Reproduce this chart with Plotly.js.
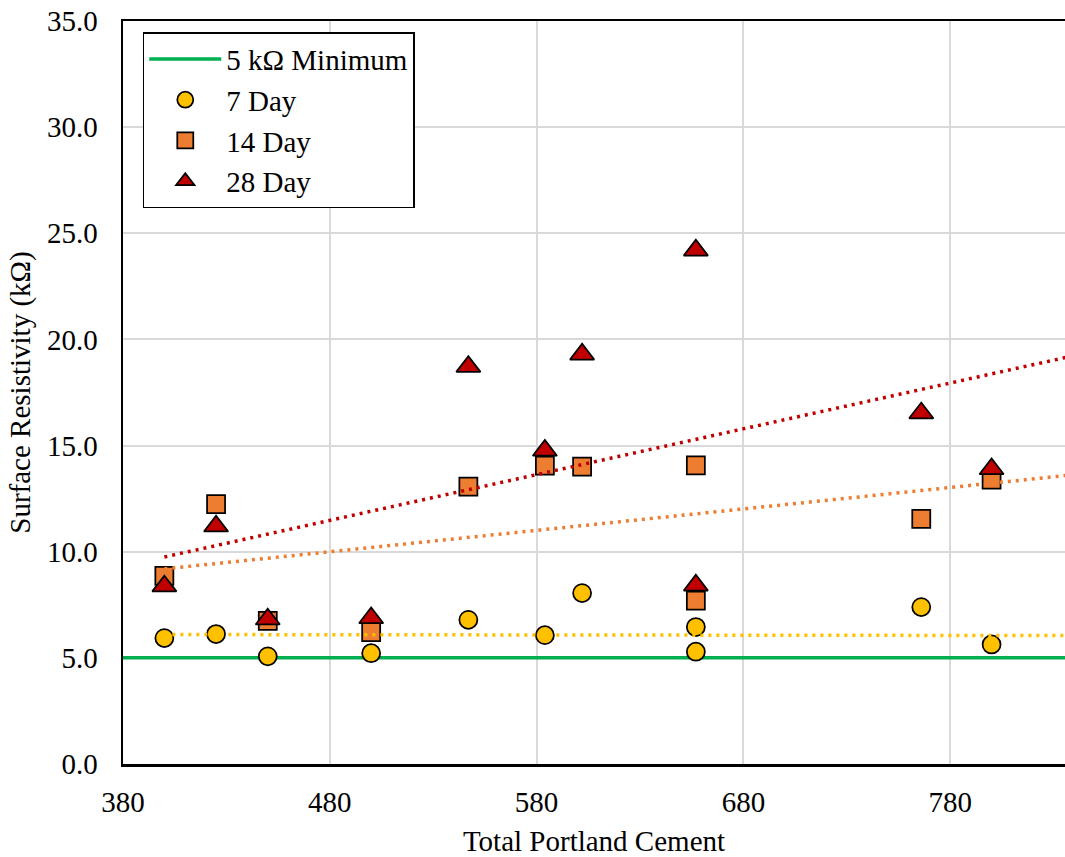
<!DOCTYPE html>
<html>
<head>
<meta charset="utf-8">
<script src="https://cdn.plot.ly/plotly-3.0.1.min.js"></script>
<style>html,body{margin:0;padding:0;overflow:hidden;background:#fff;}</style>
</head>
<body>
<div id="chart" style="width:1065px;height:857px;"></div>
<script>
// Data
const cement = [400, 425, 450, 500, 547, 584, 602, 657, 657, 766, 800];
const day7  = [5.93, 6.12, 5.07, 5.22, 6.79, 6.07, 8.05, 6.45, 5.29, 7.39, 5.63];
const day14 = [8.86, 12.24, 6.74, 6.21, 13.07, 14.06, 14.01, 14.07, 7.70, 11.55, 13.40];
const day28 = [8.38, 11.2, 6.82, 6.88, 18.72, 14.77, 19.3, 24.2, 8.42, 16.53, 13.9];

const minX = [380, 840];
const minY = [5.0, 5.0];

const trendX = [400, 840];
const trend7  = [6.10, 6.05];
const trend14 = [9.19, 13.63];
const trend28 = [9.75, 19.24];

const xTicks = [380, 480, 580, 680, 780];
const yTicks = [0, 5, 10, 15, 20, 25, 30, 35];

const FONT = 'Liberation Serif';
const FS = 29;
const dotDash = '3px,5px';

const traces = [
  {x: minX, y: minY, mode: 'lines', name: '5 kΩ Minimum',
   line: {color: '#00B050', width: 3.5}},
  {x: cement, y: day7, mode: 'markers', name: '7 Day',
   marker: {symbol: 'circle', size: 18, color: '#FFC000', line: {color: '#000', width: 1.75}}},
  {x: cement, y: day14, mode: 'markers', name: '14 Day',
   marker: {symbol: 'square', size: 18, color: '#ED7D31', line: {color: '#000', width: 1.75}}},
  {x: cement, y: day28, mode: 'markers', name: '28 Day',
   marker: {symbol: 'triangle-up', size: 21, color: '#C00000', line: {color: '#000', width: 1.75}}},
  {x: trendX, y: trend7, mode: 'lines', showlegend: false,
   line: {color: '#FFC000', width: 3.5, dash: dotDash}},
  {x: trendX, y: trend14, mode: 'lines', showlegend: false,
   line: {color: '#ED7D31', width: 3.5, dash: dotDash}},
  {x: trendX, y: trend28, mode: 'lines', showlegend: false,
   line: {color: '#C00000', width: 3.5, dash: dotDash}}
];

const layout = {
  width: 1065, height: 857,
  margin: {l: 123, r: 0, t: 21, b: 93},
  paper_bgcolor: '#fff', plot_bgcolor: '#fff',
  font: {family: FONT, size: FS, color: '#000'},
  showlegend: true,
  legend: {
    x: 0.021, y: 0.985, xanchor: 'left', yanchor: 'top',
    bgcolor: '#fff', bordercolor: '#000', borderwidth: 1.5,
    font: {family: FONT, size: FS, color: '#000'},
    itemwidth: 72, tracegroupgap: 0
  },
  xaxis: {
    range: [380, 835.5], tickvals: xTicks, ticktext: xTicks.map(String),
    showgrid: true, gridcolor: '#D9D9D9', gridwidth: 2,
    showline: true, linecolor: '#000', linewidth: 2.5, mirror: true,
    ticks: 'outside', ticklen: 11, tickcolor: 'rgba(0,0,0,0)',
    tickfont: {family: FONT, size: FS},
    zeroline: false,
    title: {text: 'Total Portland Cement', font: {family: FONT, size: FS}, standoff: 15}
  },
  yaxis: {
    range: [0, 35], tickvals: yTicks, ticktext: yTicks.map(v => v.toFixed(1)),
    showgrid: true, gridcolor: '#D9D9D9', gridwidth: 2,
    showline: true, linecolor: '#000', linewidth: 2.5, mirror: false,
    ticks: 'outside', ticklen: 17, tickcolor: 'rgba(0,0,0,0)',
    tickfont: {family: FONT, size: FS},
    zeroline: false,
    title: {text: 'Surface Resistivity (kΩ)', font: {family: FONT, size: FS}, standoff: 8}
  }
};

Plotly.newPlot('chart', traces, layout, {staticPlot: true, displayModeBar: false});
</script>
</body>
</html>
